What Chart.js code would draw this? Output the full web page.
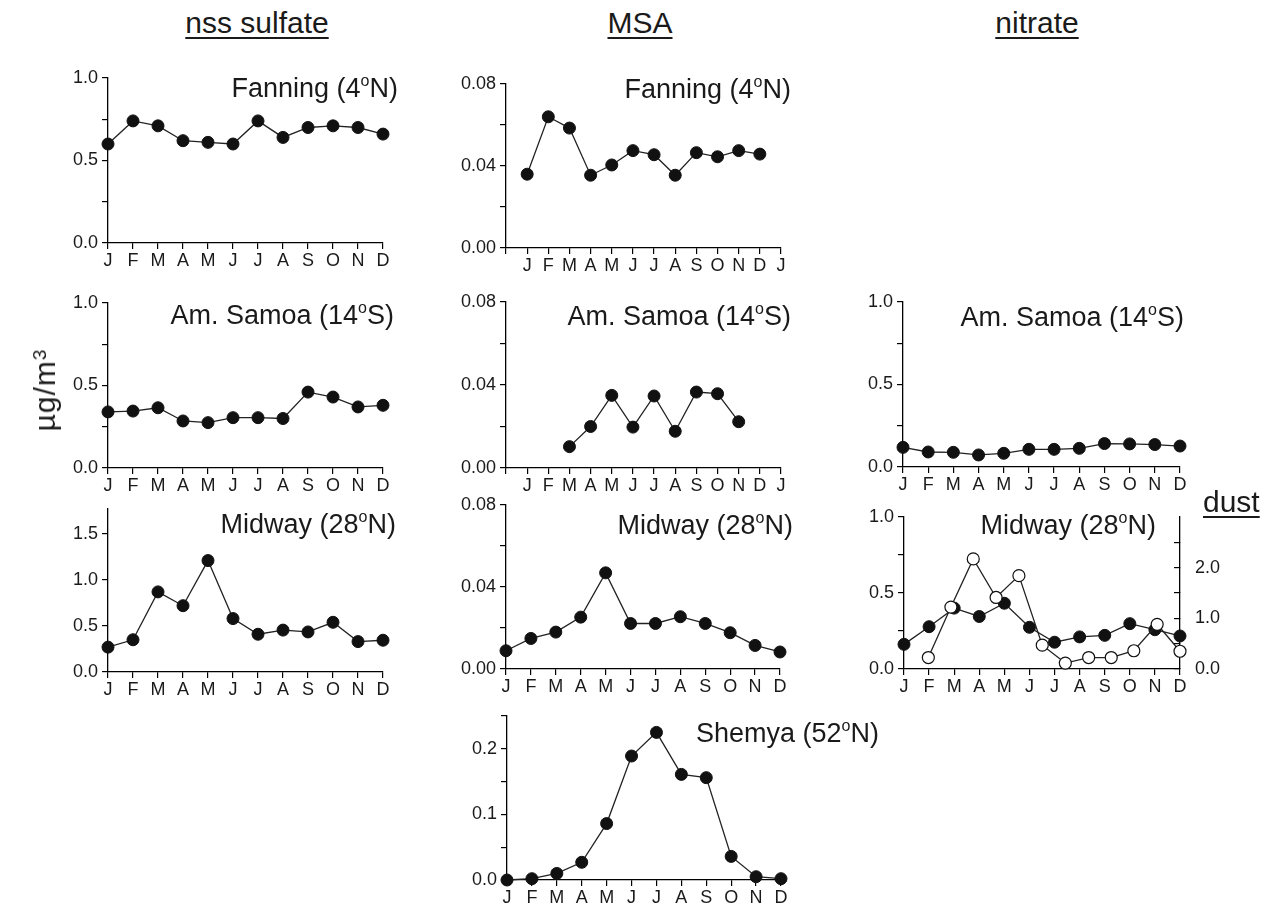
<!DOCTYPE html>
<html>
<head>
<meta charset="utf-8">
<script src="https://cdn.jsdelivr.net/npm/chart.js@4"></script>
<style>
  body { margin: 0; width: 1263px; height: 905px; overflow: hidden; position: relative; background: #fff;
         font-family: "Liberation Sans", Arial, sans-serif; color: #1a1a1a; }
  canvas { position: absolute; }
  .title { position: absolute; font-size: 30px; line-height: 30px; white-space: nowrap;
           text-decoration: underline; text-decoration-thickness: 2px; text-underline-offset: 4px; }
  .station { position: absolute; font-size: 27px; line-height: 27px; white-space: nowrap; }
  .deg { font-size: 16px; position: relative; top: -11px; }
  .ylab { position: absolute; font-size: 30px; line-height: 30px; white-space: nowrap; letter-spacing: 1px;
          transform: translate(-50%, -50%) rotate(-90deg); }
  .ylab sup { font-size: 19px; position: relative; top: -5px; vertical-align: top; }
</style>
</head>
<body>
<script>
// months on the x axis
const months = ['J', 'F', 'M', 'A', 'M', 'J', 'J', 'A', 'S', 'O', 'N', 'D'];

// nss sulfate (ug/m3)
const sulfateFanning = [0.60, 0.74, 0.71, 0.62, 0.61, 0.60, 0.74, 0.64, 0.70, 0.71, 0.70, 0.66];
const sulfateSamoa   = [0.34, 0.345, 0.365, 0.285, 0.275, 0.305, 0.305, 0.30, 0.46, 0.43, 0.37, 0.38];
const sulfateMidway  = [0.27, 0.35, 0.87, 0.72, 1.21, 0.58, 0.41, 0.455, 0.435, 0.54, 0.33, 0.345];

// MSA (ug/m3)
const msaFanning = [0.036, 0.064, 0.0585, 0.0355, 0.0405, 0.0475, 0.0455, 0.0355, 0.0465, 0.0445, 0.0475, 0.0458];
const msaSamoa   = [null, null, 0.0103, 0.020, 0.035, 0.0197, 0.0347, 0.0177, 0.0366, 0.0358, 0.0223, null];
const msaMidway  = [0.0089, 0.0149, 0.018, 0.0253, 0.0469, 0.0222, 0.0222, 0.0255, 0.0222, 0.0177, 0.0115, 0.0083];
const msaShemya  = [0.0, 0.002, 0.010, 0.027, 0.086, 0.189, 0.225, 0.161, 0.156, 0.036, 0.005, 0.002];

// nitrate (ug/m3)
const nitrateSamoa  = [0.119, 0.091, 0.089, 0.073, 0.083, 0.107, 0.107, 0.113, 0.142, 0.140, 0.136, 0.127];
const nitrateMidway = [0.162, 0.278, 0.40, 0.345, 0.432, 0.274, 0.176, 0.211, 0.221, 0.298, 0.258, 0.217];

// dust at Midway (right axis), plotted at its own month positions (0 = J ... 11 = D)
const dustMonthPos = [0.97, 1.87, 2.76, 3.67, 4.58, 5.51, 6.43, 7.36, 8.26, 9.16, 10.09, 11.0];
const dustMidway   = [0.226, 1.22, 2.17, 1.41, 1.84, 0.47, 0.116, 0.226, 0.226, 0.36, 0.88, 0.35];

const FONT = '"Liberation Sans", Arial, sans-serif';
const INK = '#1a1a1a';
const TICK_FONT = { size: 18, family: FONT };

function onStep(v, step) {
  return Math.abs(v / step - Math.round(v / step)) < 1e-6;
}

function axisStyle() {
  return {
    border: { color: '#000', width: 1.3 },
    grid: { drawOnChartArea: false, drawTicks: true, color: '#000', lineWidth: 1.2, tickLength: 6 }
  };
}

function filled(xs, ys) {
  return {
    data: ys.map((y, i) => ({ x: xs[i], y: y })),
    borderColor: '#222', borderWidth: 1.3,
    pointRadius: 6, pointBackgroundColor: '#111', pointBorderColor: '#111', pointBorderWidth: 1,
    clip: false, order: 1
  };
}

function panel(box, cfg) {
  const padR = cfg.padR != null ? cfg.padR : 25;
  const rightW = cfg.right ? 85 : 0;
  const cv = document.createElement('canvas');
  const w = (box.r - box.l) + 70 + padR + rightW;
  const h = (box.b - box.t) + 55;
  cv.width = w; cv.height = h;
  cv.style.left = (box.l - 70) + 'px';
  cv.style.top = (box.t - 20) + 'px';
  document.body.appendChild(cv);

  const xLabels = cfg.xLabels || {};
  const scales = {
    x: Object.assign(axisStyle(), {
      type: 'linear', min: cfg.xMin, max: cfg.xMax,
      afterFit: s => { s.height = 35; },
      ticks: {
        stepSize: 1, autoSkip: false, maxRotation: 0, padding: 1, color: INK, font: TICK_FONT,
        callback: v => (v in xLabels) ? xLabels[v] : (months[v] || '')
      }
    }),
    y: Object.assign(axisStyle(), {
      min: 0, max: cfg.yMax,
      afterFit: s => { s.width = 70; },
      ticks: {
        stepSize: cfg.yStep, includeBounds: false, padding: 4, color: INK, font: TICK_FONT,
        callback: v => onStep(v, cfg.yLabelStep) ? v.toFixed(cfg.yDigits) : ''
      }
    })
  };
  if (cfg.right) {
    const r = cfg.right;
    scales.y2 = Object.assign(axisStyle(), {
      position: 'right', min: 0, max: r.max,
      afterFit: s => { s.width = rightW; },
      ticks: {
        stepSize: r.step, includeBounds: false, padding: 21, color: INK, font: TICK_FONT,
        callback: v => (onStep(v, r.labelStep) && v < r.max) ? v.toFixed(1) : ''
      }
    });
    scales.y2.grid.tickLength = -6;
    scales.y2.grid.color = ctx => (ctx.tick && ctx.tick.value >= r.max) ? 'rgba(0,0,0,0)' : '#000';
  }

  new Chart(cv, {
    type: 'line',
    data: { datasets: cfg.datasets },
    options: {
      responsive: false, animation: false, devicePixelRatio: 1,
      layout: { padding: { left: 0, top: 20, right: padR, bottom: 0 } },
      plugins: { legend: { display: false }, tooltip: { enabled: false } },
      scales: scales
    }
  });
}

function text(cls, html, style) {
  const d = document.createElement('div');
  d.className = cls;
  d.innerHTML = html;
  Object.assign(d.style, style);
  document.body.appendChild(d);
}

const idx = months.map((m, i) => i);
const sulfateAxis = { yMax: 1.0, yStep: 0.25, yLabelStep: 0.5, yDigits: 1, xMin: 0, xMax: 11 };
const msaAxis = { yMax: 0.08, yStep: 0.02, yLabelStep: 0.04, yDigits: 2, xMin: 0, xMax: 11 };
const msaWideAxis = Object.assign({}, msaAxis, { xMin: -1, xMax: 12, xLabels: { '-1': '', '12': 'J' } });

// row 1
panel({ l: 108, r: 383, t: 78, b: 243 }, Object.assign({}, sulfateAxis, { datasets: [filled(idx, sulfateFanning)] }));
panel({ l: 506, r: 781, t: 84, b: 248 }, Object.assign({}, msaWideAxis, { datasets: [filled(idx, msaFanning)] }));
// row 2
panel({ l: 108, r: 383, t: 303, b: 468 }, Object.assign({}, sulfateAxis, { datasets: [filled(idx, sulfateSamoa)] }));
panel({ l: 506, r: 781, t: 302, b: 468 }, Object.assign({}, msaWideAxis, { datasets: [filled(idx, msaSamoa)] }));
panel({ l: 903, r: 1180, t: 302, b: 467 }, Object.assign({}, sulfateAxis, { datasets: [filled(idx, nitrateSamoa)] }));
// row 3
panel({ l: 108, r: 383, t: 509, b: 672 }, Object.assign({}, sulfateAxis, { yMax: 1.77, datasets: [filled(idx, sulfateMidway)] }));
panel({ l: 506, r: 780, t: 505, b: 669 }, Object.assign({}, msaAxis, { datasets: [filled(idx, msaMidway)] }));

const dustSet = {
  data: dustMidway.map((y, i) => ({ x: dustMonthPos[i], y: y })),
  yAxisID: 'y2',
  borderColor: '#222', borderWidth: 1.3,
  pointRadius: 6, pointBackgroundColor: '#fff', pointBorderColor: '#111', pointBorderWidth: 1.2,
  clip: false, order: 0
};
panel({ l: 904, r: 1180, t: 505, b: 669 }, Object.assign({}, sulfateAxis, {
  padR: 0, right: { max: 3, step: 0.5, labelStep: 1 },
  datasets: [dustSet, filled(idx, nitrateMidway)]
}));
// row 4
panel({ l: 507, r: 781, t: 716, b: 880 }, Object.assign({}, msaAxis, {
  yMax: 0.25, yStep: 0.05, yLabelStep: 0.1, yDigits: 1, datasets: [filled(idx, msaShemya)]
}));

// column titles and axis label
text('title', 'nss sulfate', { left: '257px', top: '8px', transform: 'translateX(-50%)' });
text('title', 'MSA', { left: '640px', top: '8px', transform: 'translateX(-50%)' });
text('title', 'nitrate', { left: '1037px', top: '8px', transform: 'translateX(-50%)' });
text('title', 'dust', { left: '1203px', top: '487px' });
text('ylab', '&micro;g/m<sup>3</sup>', { left: '45px', top: '390px' });

// station labels: right edge and baseline
const stations = [
  ['Fanning (4', 'N)', 398, 98], ['Fanning (4', 'N)', 791, 99],
  ['Am. Samoa (14', 'S)', 394, 325], ['Am. Samoa (14', 'S)', 791, 326], ['Am. Samoa (14', 'S)', 1184, 327],
  ['Midway (28', 'N)', 396, 534], ['Midway (28', 'N)', 793, 535], ['Midway (28', 'N)', 1156, 535],
  ['Shemya (52', 'N)', 879, 743]
];
stations.forEach(s => {
  text('station', s[0] + '<span class="deg">o</span>' + s[1],
    { right: (1263 - s[2]) + 'px', top: (s[3] - 23) + 'px' });
});
</script>
</body>
</html>
